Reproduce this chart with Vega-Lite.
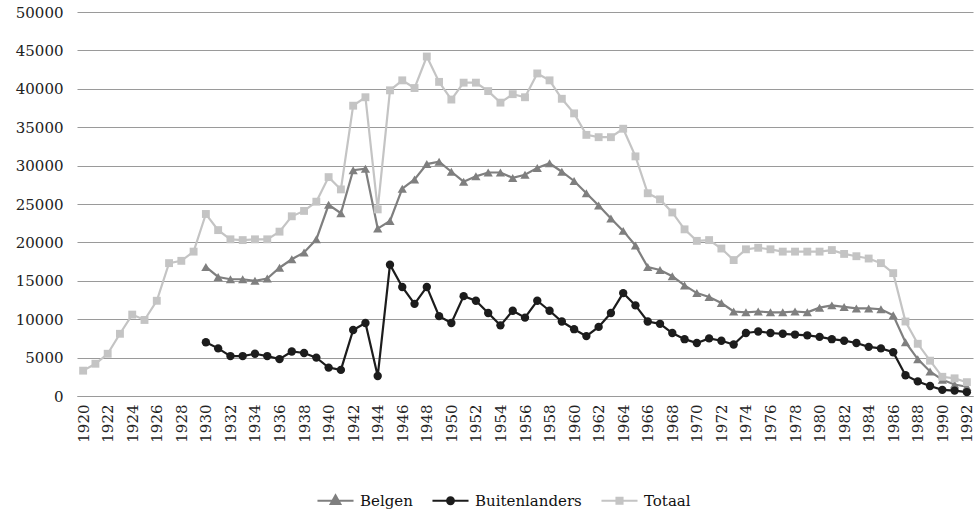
{
  "$schema": "https://vega.github.io/schema/vega-lite/v6.json",
  "width": 896,
  "height": 384,
  "autosize": {"type": "none"},
  "padding": {"left": 77, "top": 12, "right": 7, "bottom": 115},
  "background": "white",
  "config": {
    "view": {"stroke": null},
    "font": "DejaVu Serif",
    "axis": {"labelFont": "DejaVu Serif", "labelFontSize": 15, "labelColor": "#222222", "ticks": false, "title": null},
    "legend": {"labelFont": "DejaVu Serif"}
  },
  "data": {"values": [
    {"year": 1920, "Totaal": 3300, "Belgen": null, "Buitenlanders": null},
    {"year": 1921, "Totaal": 4200, "Belgen": null, "Buitenlanders": null},
    {"year": 1922, "Totaal": 5500, "Belgen": null, "Buitenlanders": null},
    {"year": 1923, "Totaal": 8100, "Belgen": null, "Buitenlanders": null},
    {"year": 1924, "Totaal": 10600, "Belgen": null, "Buitenlanders": null},
    {"year": 1925, "Totaal": 9900, "Belgen": null, "Buitenlanders": null},
    {"year": 1926, "Totaal": 12400, "Belgen": null, "Buitenlanders": null},
    {"year": 1927, "Totaal": 17300, "Belgen": null, "Buitenlanders": null},
    {"year": 1928, "Totaal": 17600, "Belgen": null, "Buitenlanders": null},
    {"year": 1929, "Totaal": 18800, "Belgen": null, "Buitenlanders": null},
    {"year": 1930, "Totaal": 23700, "Belgen": 16800, "Buitenlanders": 7000},
    {"year": 1931, "Totaal": 21600, "Belgen": 15500, "Buitenlanders": 6200},
    {"year": 1932, "Totaal": 20400, "Belgen": 15200, "Buitenlanders": 5200},
    {"year": 1933, "Totaal": 20300, "Belgen": 15200, "Buitenlanders": 5200},
    {"year": 1934, "Totaal": 20400, "Belgen": 15000, "Buitenlanders": 5500},
    {"year": 1935, "Totaal": 20400, "Belgen": 15300, "Buitenlanders": 5200},
    {"year": 1936, "Totaal": 21400, "Belgen": 16700, "Buitenlanders": 4800},
    {"year": 1937, "Totaal": 23400, "Belgen": 17800, "Buitenlanders": 5800},
    {"year": 1938, "Totaal": 24100, "Belgen": 18700, "Buitenlanders": 5600},
    {"year": 1939, "Totaal": 25300, "Belgen": 20400, "Buitenlanders": 5000},
    {"year": 1940, "Totaal": 28500, "Belgen": 24900, "Buitenlanders": 3700},
    {"year": 1941, "Totaal": 26900, "Belgen": 23800, "Buitenlanders": 3400},
    {"year": 1942, "Totaal": 37800, "Belgen": 29400, "Buitenlanders": 8600},
    {"year": 1943, "Totaal": 38900, "Belgen": 29600, "Buitenlanders": 9500},
    {"year": 1944, "Totaal": 24300, "Belgen": 21800, "Buitenlanders": 2600},
    {"year": 1945, "Totaal": 39800, "Belgen": 22800, "Buitenlanders": 17100},
    {"year": 1946, "Totaal": 41100, "Belgen": 27000, "Buitenlanders": 14200},
    {"year": 1947, "Totaal": 40100, "Belgen": 28200, "Buitenlanders": 12000},
    {"year": 1948, "Totaal": 44200, "Belgen": 30200, "Buitenlanders": 14200},
    {"year": 1949, "Totaal": 40900, "Belgen": 30500, "Buitenlanders": 10400},
    {"year": 1950, "Totaal": 38600, "Belgen": 29200, "Buitenlanders": 9500},
    {"year": 1951, "Totaal": 40800, "Belgen": 27900, "Buitenlanders": 13000},
    {"year": 1952, "Totaal": 40800, "Belgen": 28600, "Buitenlanders": 12400},
    {"year": 1953, "Totaal": 39700, "Belgen": 29100, "Buitenlanders": 10800},
    {"year": 1954, "Totaal": 38200, "Belgen": 29100, "Buitenlanders": 9200},
    {"year": 1955, "Totaal": 39300, "Belgen": 28400, "Buitenlanders": 11100},
    {"year": 1956, "Totaal": 38900, "Belgen": 28800, "Buitenlanders": 10200},
    {"year": 1957, "Totaal": 42000, "Belgen": 29700, "Buitenlanders": 12400},
    {"year": 1958, "Totaal": 41100, "Belgen": 30300, "Buitenlanders": 11100},
    {"year": 1959, "Totaal": 38700, "Belgen": 29200, "Buitenlanders": 9700},
    {"year": 1960, "Totaal": 36800, "Belgen": 28000, "Buitenlanders": 8700},
    {"year": 1961, "Totaal": 34000, "Belgen": 26400, "Buitenlanders": 7800},
    {"year": 1962, "Totaal": 33700, "Belgen": 24800, "Buitenlanders": 9000},
    {"year": 1963, "Totaal": 33700, "Belgen": 23100, "Buitenlanders": 10800},
    {"year": 1964, "Totaal": 34800, "Belgen": 21500, "Buitenlanders": 13400},
    {"year": 1965, "Totaal": 31200, "Belgen": 19600, "Buitenlanders": 11800},
    {"year": 1966, "Totaal": 26400, "Belgen": 16800, "Buitenlanders": 9700},
    {"year": 1967, "Totaal": 25600, "Belgen": 16400, "Buitenlanders": 9400},
    {"year": 1968, "Totaal": 23900, "Belgen": 15600, "Buitenlanders": 8200},
    {"year": 1969, "Totaal": 21700, "Belgen": 14400, "Buitenlanders": 7400},
    {"year": 1970, "Totaal": 20200, "Belgen": 13400, "Buitenlanders": 6900},
    {"year": 1971, "Totaal": 20300, "Belgen": 12900, "Buitenlanders": 7500},
    {"year": 1972, "Totaal": 19200, "Belgen": 12100, "Buitenlanders": 7200},
    {"year": 1973, "Totaal": 17700, "Belgen": 11000, "Buitenlanders": 6700},
    {"year": 1974, "Totaal": 19100, "Belgen": 10900, "Buitenlanders": 8200},
    {"year": 1975, "Totaal": 19300, "Belgen": 11000, "Buitenlanders": 8400},
    {"year": 1976, "Totaal": 19100, "Belgen": 10900, "Buitenlanders": 8200},
    {"year": 1977, "Totaal": 18800, "Belgen": 10900, "Buitenlanders": 8100},
    {"year": 1978, "Totaal": 18800, "Belgen": 11000, "Buitenlanders": 8000},
    {"year": 1979, "Totaal": 18800, "Belgen": 10900, "Buitenlanders": 7900},
    {"year": 1980, "Totaal": 18800, "Belgen": 11500, "Buitenlanders": 7700},
    {"year": 1981, "Totaal": 19000, "Belgen": 11800, "Buitenlanders": 7400},
    {"year": 1982, "Totaal": 18500, "Belgen": 11600, "Buitenlanders": 7200},
    {"year": 1983, "Totaal": 18200, "Belgen": 11400, "Buitenlanders": 6900},
    {"year": 1984, "Totaal": 17900, "Belgen": 11400, "Buitenlanders": 6400},
    {"year": 1985, "Totaal": 17300, "Belgen": 11300, "Buitenlanders": 6200},
    {"year": 1986, "Totaal": 16000, "Belgen": 10500, "Buitenlanders": 5700},
    {"year": 1987, "Totaal": 9700, "Belgen": 7000, "Buitenlanders": 2700},
    {"year": 1988, "Totaal": 6800, "Belgen": 4800, "Buitenlanders": 1900},
    {"year": 1989, "Totaal": 4600, "Belgen": 3200, "Buitenlanders": 1300},
    {"year": 1990, "Totaal": 2500, "Belgen": 2100, "Buitenlanders": 800},
    {"year": 1991, "Totaal": 2300, "Belgen": 1500, "Buitenlanders": 700},
    {"year": 1992, "Totaal": 1800, "Belgen": 1200, "Buitenlanders": 500}
  ]},
  "transform": [
    {"fold": ["Belgen", "Buitenlanders", "Totaal"], "as": ["reeks", "aantal"]},
    {"filter": "datum.aantal != null"}
  ],
  "encoding": {
    "x": {
      "field": "year", "type": "ordinal",
      "scale": {"type": "point", "padding": 0.5},
      "axis": {
        "values": [1920,1922,1924,1926,1928,1930,1932,1934,1936,1938,1940,1942,1944,1946,1948,1950,1952,1954,1956,1958,1960,1962,1964,1966,1968,1970,1972,1974,1976,1978,1980,1982,1984,1986,1988,1990,1992],
        "labelAngle": -90, "labelAlign": "right", "labelBaseline": "middle",
        "labelPadding": 8, "domain": true, "domainColor": "#9a9a9a", "domainWidth": 1.2, "grid": false
      }
    },
    "y": {
      "field": "aantal", "type": "quantitative",
      "scale": {"domain": [0, 50000], "nice": false},
      "axis": {
        "values": [0,5000,10000,15000,20000,25000,30000,35000,40000,45000,50000],
        "format": "d", "domain": false, "grid": true, "gridColor": "#9a9a9a", "gridWidth": 1.2,
        "labelPadding": 14
      }
    },
    "color": {
      "field": "reeks", "type": "nominal",
      "scale": {"domain": ["Belgen", "Buitenlanders", "Totaal"], "range": ["#7f7f7f", "#1c1c1c", "#c4c4c4"]},
      "legend": {
        "title": null, "orient": "none", "direction": "horizontal",
        "legendX": 239, "legendY": 469, "padding": 0,
        "labelFontSize": 15, "labelColor": "#111111",
        "symbolSize": 1300, "labelOffset": 5, "columnPadding": 15,
        "encode": {
          "symbols": {
            "update": {
              "shape": {"signal": "datum.value === 'Belgen' ? 'M-1,0H1M0,-0.3L0.27,0.18L-0.27,0.18Z' : datum.value === 'Buitenlanders' ? 'M-1,0H1M0.19,0A0.19,0.19 0 1,1 -0.19,0A0.19,0.19 0 1,1 0.19,0Z' : 'M-1,0H1M-0.17,-0.17H0.17V0.17H-0.17Z'"},
              "fill": {"signal": "datum.value === 'Belgen' ? '#7f7f7f' : datum.value === 'Buitenlanders' ? '#1c1c1c' : '#c4c4c4'"},
              "stroke": {"signal": "datum.value === 'Belgen' ? '#7f7f7f' : datum.value === 'Buitenlanders' ? '#1c1c1c' : '#c4c4c4'"},
              "strokeWidth": {"value": 2},
              "opacity": {"value": 1}
            }
          }
        }
      }
    }
  },
  "layer": [
    {
      "mark": {"type": "line", "strokeWidth": 2.2},
      "encoding": {"detail": {"field": "reeks"}}
    },
    {
      "transform": [{"filter": "datum.reeks === 'Belgen'"}],
      "mark": {"type": "point", "filled": true, "opacity": 1, "size": 85, "shape": "triangle-up"}
    },
    {
      "transform": [{"filter": "datum.reeks === 'Buitenlanders'"}],
      "mark": {"type": "point", "filled": true, "opacity": 1, "size": 70, "shape": "circle"}
    },
    {
      "transform": [{"filter": "datum.reeks === 'Totaal'"}],
      "mark": {"type": "point", "filled": true, "opacity": 1, "size": 62, "shape": "square"}
    }
  ]
}
